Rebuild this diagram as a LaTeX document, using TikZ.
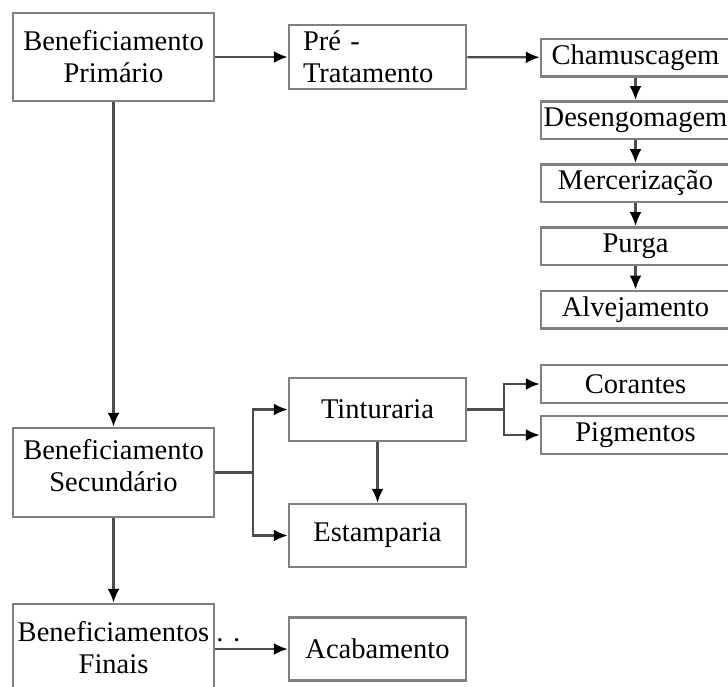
\documentclass[tikz,border=0pt]{standalone}
\usepackage{fontspec}
\setmainfont{Liberation Serif}
\usetikzlibrary{arrows.meta, positioning}

\begin{document}
\begin{tikzpicture}[x=1pt, y=-1pt,
        caixa/.style={rectangle, draw=black!50, line width=2.5pt, inner sep=2pt, align=center, font=\fontsize{28.5}{32}\selectfont},
        grande/.style={caixa, minimum width=201pt, minimum height=88pt},
        media/.style={caixa, minimum width=177pt, minimum height=63pt},
        etapa/.style={caixa, minimum width=189pt, minimum height=37.5pt},
        flecha/.style={-{Latex[length=14pt, width=12pt, color=black]}, draw=black!70, line width=2.2pt}
    ]
        % Recorte da figura
        \clip (0,0) rectangle (728,686);

        % Coluna da esquerda
        \node[grande] (primario) at (113.5, 57) {Beneficiamento\\Primário};
        \node[grande, minimum height=89pt] (secundario) at (113.5, 472.5) {Beneficiamento\\Secundário\\[-17pt]};
        \node[grande] (finais) at (113.5, 648) {Beneficiamentos\rlap{ . .}\\Finais};

        % Coluna do meio
        \node[media, minimum height=64pt, align=left, text width=149pt, inner xsep=14pt] (pre) at (377.5, 57) {Pré -\\Tratamento};
        \node[media] (tinturaria) at (377.5, 409.5) {Tinturaria};
        \node[media] (estamparia) at (377.5, 535.5) {Estamparia};
        \node[media] (acabamento) at (377.5, 649) {Acabamento};

        % Coluna da direita (pré-tratamento)
        \node[etapa] (chamuscagem) at (635.5, 57.5) {Chamuscagem};
        \node[etapa] (desengomagem) at (635.5, 120) {Desengomagem};
        \node[etapa] (mercerizacao) at (635.5, 183) {Mercerização};
        \node[etapa] (purga) at (635.5, 246) {Purga};
        \node[etapa] (alvejamento) at (635.5, 309.5) {Alvejamento};

        % Coluna da direita (tinturaria)
        \node[etapa, minimum height=38pt] (corantes) at (635.5, 384) {Corantes};
        \node[etapa, minimum height=38pt] (pigmentos) at (635.5, 435) {Pigmentos};

        % ================= SETAS =================

        % Fluxo principal
        \draw[flecha] (primario) -- (pre);
        \draw[flecha] (pre) -- (chamuscagem);
        \draw[flecha] (primario) -- (secundario);
        \draw[flecha] (secundario) -- (finais);
        \draw[flecha] (finais.east |- acabamento.west) -- (acabamento.west);

        % Etapas do pré-tratamento
        \draw[flecha] (chamuscagem) -- (desengomagem);
        \draw[flecha] (desengomagem) -- (mercerizacao);
        \draw[flecha] (mercerizacao) -- (purga);
        \draw[flecha] (purga) -- (alvejamento);

        % Ramificação do beneficiamento secundário
        \draw[flecha] (secundario.east) -- ++(38,0) |- (tinturaria.west);
        \draw[flecha] (secundario.east) -- ++(38,0) |- (estamparia.west);
        \draw[flecha] (tinturaria) -- (estamparia);

        % Ramificação da tinturaria
        \draw[flecha] (tinturaria.east) -- ++(37,0) |- (corantes.west);
        \draw[flecha] (tinturaria.east) -- ++(37,0) |- (pigmentos.west);

    \end{tikzpicture}
\end{document}
